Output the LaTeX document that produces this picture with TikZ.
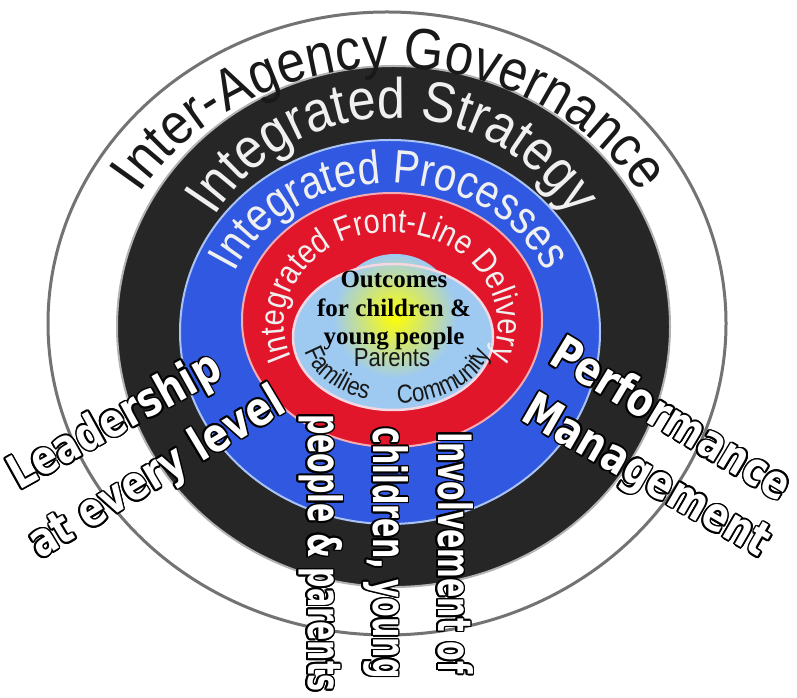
\documentclass[tikz,border=0pt]{standalone}
\usepackage{fontspec}
\setmainfont{Liberation Sans}
\newfontfamily\ringfont{Liberation Sans}
\newfontfamily\tallfont[FakeStretch=0.88]{Liberation Sans}
\newfontfamily\narrowfont[FakeStretch=0.85]{Liberation Sans}
\newfontfamily\serifbf{Liberation Serif}
\newfontfamily\wafont[FakeStretch=0.8]{DejaVu Sans}
\newfontfamily\wvfont[FakeStretch=0.62]{DejaVu Sans}
\usepackage{contour}
\contourlength{1.6pt}
\usetikzlibrary{decorations.text}
\definecolor{ringblack}{RGB}{38,38,38}
\definecolor{ringblue}{RGB}{48,88,224}
\definecolor{ringred}{RGB}{226,22,42}
\definecolor{lblue}{RGB}{158,202,242}
\definecolor{outergray}{RGB}{115,115,115}
\definecolor{txtwhite}{RGB}{240,240,240}
\definecolor{rimblue}{RGB}{170,195,245}
\definecolor{rimred}{RGB}{245,170,180}
\definecolor{rimin}{RGB}{245,215,225}
\definecolor{inktext}{RGB}{25,25,25}
\begin{document}
\begin{tikzpicture}[x=1pt,y=1pt,
  wa/.style={text=white, font=\wafont\bfseries\fontsize{47pt}{62pt}\selectfont, inner sep=0pt},
  wv/.style={text=white, font=\wvfont\bfseries\fontsize{46pt}{65pt}\selectfont, inner sep=0pt, align=center},
  outc/.style={font=\serifbf\bfseries\fontsize{25pt}{28pt}\selectfont, anchor=base, inner sep=0pt},
]
\useasboundingbox (0,0) rectangle (797,698);
\fill[white] (0,0) rectangle (797,698);
% rings
\coordinate (cOut) at (387,374.5);
\draw[outergray, line width=3pt] (cOut) ellipse[x radius=339pt, y radius=311.5pt];
\coordinate (cBlk) at (393.5,371.5);
\filldraw[fill=ringblack, draw=gray!60, line width=2pt] (cBlk) ellipse[x radius=276.5pt, y radius=260.5pt];
\coordinate (cBlu) at (390,366);
\filldraw[fill=ringblue, draw=rimblue, line width=2pt] (cBlu) ellipse[x radius=210pt, y radius=192pt];
\coordinate (cRed) at (392,378);
\filldraw[fill=ringred, draw=rimred, line width=2pt] (cRed) ellipse[x radius=150pt, y radius=127pt];
\coordinate (cIn) at (393,361);
\fill[lblue] (cIn) ellipse[x radius=100pt, y radius=73pt];
\shade[inner color=yellow, outer color=lblue] (395,382) circle[radius=62pt];
\draw[rimin, line width=2.5pt] (cIn) ellipse[x radius=100pt, y radius=73pt];
% ring texts
\path[decorate, decoration={text along path, text align=center, text color=inktext,
  text={|\tallfont\fontsize{58pt}{58pt}\selectfont|Inter-Agency Governance}}]
  (390,373) ++(160:291pt and 257pt) arc[start angle=160, end angle=20, x radius=291pt, y radius=257pt];
\path[decorate, decoration={text along path, text align=center, text color=txtwhite,
  text={|\tallfont\fontsize{57pt}{57pt}\selectfont|Integrated Strategy}}]
  (393,366) ++(162:212pt and 214pt) arc[start angle=162, end angle=18, x radius=212pt, y radius=214pt];
\path[decorate, decoration={text along path, text align=center, text color=txtwhite,
  text={|\narrowfont\fontsize{47pt}{47pt}\selectfont|Integrated Processes}}]
  (390,366) ++(165:170pt and 149pt) arc[start angle=165, end angle=15, x radius=170pt, y radius=149pt];
\path[decorate, decoration={text along path, text align=center, text color=txtwhite,
  text={|\narrowfont\fontsize{34pt}{34pt}\selectfont|Integrated Front-Line Delivery}}]
  (391,374) ++(228:107pt and 92pt) arc[start angle=228, end angle=-48, x radius=107pt, y radius=92pt];
\path[decorate, decoration={text along path, text align=center, text color=inktext,
  text={|\narrowfont\fontsize{26pt}{26pt}\selectfont|Families}}]
  (398,361) ++(184:95pt and 66pt) arc[start angle=184, end angle=257, x radius=95pt, y radius=66pt];
\path[decorate, decoration={text along path, text align=center, text color=inktext,
  text={|\narrowfont\fontsize{26pt}{26pt}\selectfont|Community}}]
  (398,361) ++(257:95pt and 66pt) arc[start angle=257, end angle=364, x radius=95pt, y radius=66pt];
% centre texts
\node[outc] (o1) at (394,410) {Outcomes};
\node[outc] (o2) at (394,381) {for children \&};
\node[outc] (o3) at (394,353) {young people};
\node[font=\narrowfont\fontsize{26pt}{26pt}\selectfont, text=inktext, anchor=base, inner sep=0pt] (par) at (392,331) {Parents};
% word-art labels
\node[wa, rotate=29] (lead) at (116,275) {\contour{black}{Leadership}};
\node[wa, rotate=31] (every) at (158,223) {\contour{black}{at every level}};
\node[wa, rotate=-31] (perf) at (672,280) {\contour{black}{Performance}};
\node[wa, rotate=-30] (mgmt) at (645,219) {\contour{black}{Management}};
\node[wv, rotate=-90] (inv) at (385,145) {\contour{black}{Involvement of}\\\contour{black}{children, young}\\\contour{black}{people \& parents}};
\end{tikzpicture}
\end{document}
